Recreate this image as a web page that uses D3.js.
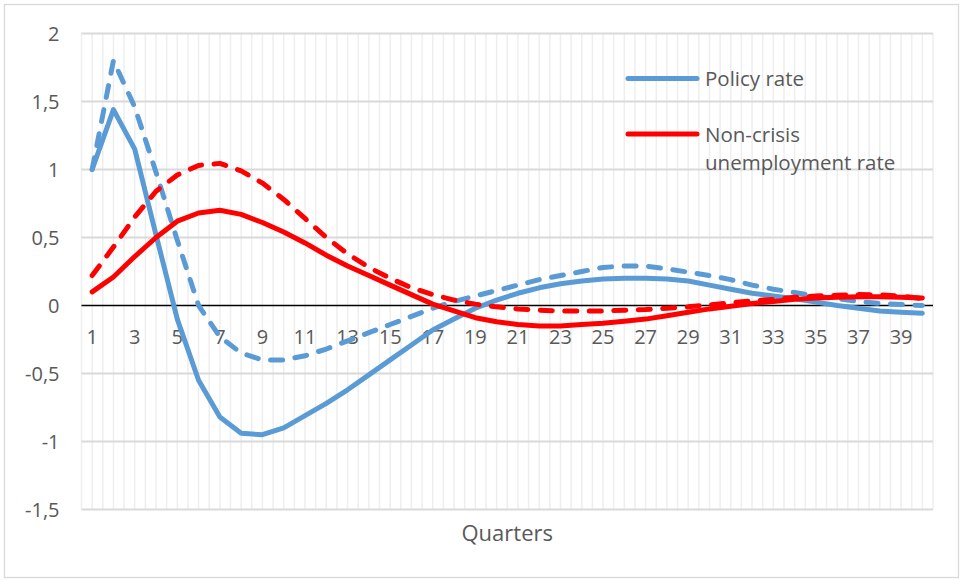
<!DOCTYPE html>
<html>
<head>
<meta charset="utf-8">
<script src="https://cdn.jsdelivr.net/npm/d3@7"></script>
<style>
  html, body { margin: 0; padding: 0; background: #ffffff; }
  svg { display: block; }
  text { font-family: "Open Sans", "Noto Sans", sans-serif; fill: #595959; }
</style>
</head>
<body>
<svg id="chart" width="963" height="580"></svg>
<script>
// ---------------- DATA ----------------
const quarters = d3.range(1, 41);
const yTicks = [-1.5, -1, -0.5, 0, 0.5, 1, 1.5, 2];
const yTickLabels = ["-1,5", "-1", "-0,5", "0", "0,5", "1", "1,5", "2"];

const policyRate = [
  1.00, 1.44, 1.15, 0.52, -0.10, -0.55, -0.82, -0.94, -0.95, -0.90,
  -0.81, -0.72, -0.62, -0.51, -0.40, -0.29, -0.18, -0.10, -0.02, 0.04,
  0.09, 0.13, 0.16, 0.18, 0.195, 0.20, 0.20, 0.195, 0.18, 0.15,
  0.12, 0.09, 0.07, 0.05, 0.025, 0.00, -0.02, -0.04, -0.05, -0.057
];
const policyRateCrisis = [
  1.00, 1.80, 1.46, 0.98, 0.48, 0.00, -0.23, -0.35, -0.40, -0.40,
  -0.37, -0.32, -0.26, -0.20, -0.14, -0.08, -0.02, 0.03, 0.07, 0.11,
  0.15, 0.19, 0.22, 0.25, 0.28, 0.29, 0.29, 0.27, 0.245, 0.22,
  0.19, 0.15, 0.12, 0.095, 0.07, 0.05, 0.03, 0.015, 0.007, 0.00
];
const unemploymentRate = [
  0.10, 0.21, 0.36, 0.50, 0.62, 0.68, 0.70, 0.67, 0.61, 0.54,
  0.46, 0.37, 0.29, 0.22, 0.15, 0.08, 0.01, -0.04, -0.09, -0.12,
  -0.14, -0.15, -0.15, -0.14, -0.13, -0.115, -0.10, -0.075, -0.05, -0.025,
  -0.005, 0.015, 0.03, 0.045, 0.055, 0.06, 0.065, 0.065, 0.06, 0.055
];
const unemploymentRateCrisis = [
  0.22, 0.43, 0.65, 0.84, 0.96, 1.03, 1.045, 0.99, 0.90, 0.78,
  0.64, 0.50, 0.38, 0.28, 0.20, 0.13, 0.08, 0.04, 0.01, -0.01,
  -0.025, -0.035, -0.04, -0.04, -0.04, -0.035, -0.03, -0.02, -0.01, 0.005,
  0.02, 0.035, 0.045, 0.06, 0.07, 0.075, 0.08, 0.078, 0.07, 0.05
];
const legendLabels = [["Policy rate"], ["Non-crisis", "unemployment rate"]];
const xTitle = "Quarters";

const BLUE = "#5B9BD5", RED = "#FF0000";
const series = [
  { values: policyRate, color: BLUE, dashed: false },
  { values: policyRateCrisis, color: BLUE, dashed: true },
  { values: unemploymentRate, color: RED, dashed: false },
  { values: unemploymentRateCrisis, color: RED, dashed: true }
];

// ---------------- LAYOUT ----------------
const svg = d3.select("#chart");
const plotL = 81.5, plotR = 933, plotT = 33.5, plotB = 509.5;

const x = d3.scaleBand().domain(quarters).range([plotL, plotR]).padding(0);
const y = d3.scaleLinear().domain([-1.5, 2]).range([plotB, plotT]);
const cx = q => x(q) + x.bandwidth() / 2;

// chart border
svg.append("rect")
  .attr("x", 4.5).attr("y", 4.5).attr("width", 954).attr("height", 573)
  .attr("fill", "#fff").attr("stroke", "#D9D9D9").attr("stroke-width", 1.3);

// vertical gridlines (every half category)
const vLines = [];
quarters.forEach(q => { vLines.push(x(q)); vLines.push(cx(q)); });
vLines.push(plotR);
svg.append("g").selectAll("line").data(vLines).join("line")
  .attr("x1", d => d).attr("x2", d => d)
  .attr("y1", plotT).attr("y2", plotB)
  .attr("stroke", "#EEEEEE").attr("stroke-width", 1.5);

// horizontal gridlines
svg.append("g").selectAll("line").data(yTicks.filter(v => v !== 0)).join("line")
  .attr("x1", plotL).attr("x2", plotR)
  .attr("y1", d => y(d)).attr("y2", d => y(d))
  .attr("stroke", "#D9D9D9").attr("stroke-width", 2);

// zero axis line
svg.append("line")
  .attr("x1", plotL).attr("x2", plotR)
  .attr("y1", y(0)).attr("y2", y(0))
  .attr("stroke", "#000").attr("stroke-width", 1.5);

// y tick labels
svg.append("g").selectAll("text").data(yTicks).join("text")
  .attr("x", 59.5).attr("y", d => y(d))
  .attr("dy", "0.36em")
  .attr("text-anchor", "end")
  .attr("font-size", 20)
  .text((d, i) => yTickLabels[i]);

// x tick labels (every other quarter)
svg.append("g").selectAll("text").data(quarters.filter(q => q % 2 === 1)).join("text")
  .attr("x", d => cx(d)).attr("y", 344)
  .attr("text-anchor", "middle")
  .attr("font-size", 20)
  .text(d => d);

// x title
svg.append("text")
  .attr("x", (plotL + plotR) / 2).attr("y", 541)
  .attr("text-anchor", "middle")
  .attr("font-size", 22)
  .text(xTitle);

// lines
const line = d3.line().x((d, i) => cx(quarters[i])).y(d => y(d));
series.forEach(s => {
  svg.append("path")
    .attr("d", line(s.values))
    .attr("fill", "none")
    .attr("stroke", s.color)
    .attr("stroke-width", 5)
    .attr("stroke-linejoin", "round")
    .attr("stroke-linecap", "round")
    .attr("stroke-dasharray", s.dashed ? "12,12.5" : null);
});

// legend
const legend = svg.append("g");
const legendItems = [
  { color: BLUE, ly: 78.5, lines: legendLabels[0], baseline: 86 },
  { color: RED, ly: 134, lines: legendLabels[1], baseline: 141.5 }
];
legendItems.forEach(it => {
  legend.append("line")
    .attr("x1", 628).attr("x2", 697)
    .attr("y1", it.ly).attr("y2", it.ly)
    .attr("stroke", it.color).attr("stroke-width", 5)
    .attr("stroke-linecap", "round");
  it.lines.forEach((t, k) => {
    legend.append("text")
      .attr("x", 705).attr("y", it.baseline + k * 28.5)
      .attr("font-size", 20.5)
      .text(t);
  });
});
</script>
</body>
</html>
